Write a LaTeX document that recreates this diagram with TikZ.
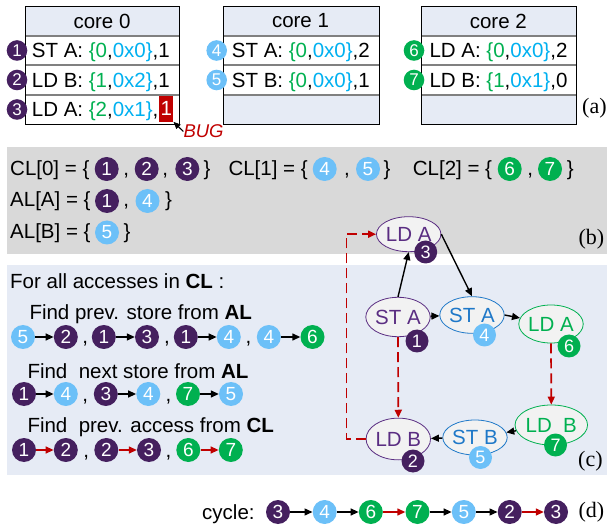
\documentclass[tikz,border=0pt]{standalone}
\usepackage{fontspec}
\setmainfont{Liberation Sans}
\newfontfamily\tms{Liberation Serif}
\usetikzlibrary{arrows.meta,shapes.geometric}
\definecolor{dpur}{HTML}{45205F}
\definecolor{lblu}{HTML}{6CC0F8}
\definecolor{grn}{HTML}{00B050}
\definecolor{cyn}{HTML}{00B0F0}
\definecolor{bred}{HTML}{C00000}
\definecolor{pnl}{HTML}{E6EBF5}
\definecolor{gry}{HTML}{D9D9D9}
\definecolor{purtxt}{HTML}{5A2D82}
\definecolor{blutxt}{HTML}{1E78C8}
\definecolor{efill}{HTML}{F2F2F2}
\newcommand\gv[1]{{\color{grn}#1}}
\newcommand\cv[1]{{\color{cyn}#1}}
\begin{document}
\begin{tikzpicture}[x=1pt,y=-1pt,
  txt/.style={inner sep=0pt, anchor=base west, font=\fontsize{20.5}{24}\selectfont},
  hdr/.style={inner sep=0pt, font=\fontsize{20.5}{24}\selectfont},
  lbl/.style={inner sep=0pt, anchor=base west, font=\tms\fontsize{22}{26}\selectfont},
  bdg/.style={circle, inner sep=0pt, minimum size=24pt, text=white, font=\fontsize{19}{20}\selectfont},
  bdgs/.style={bdg, minimum size=20.6pt, font=\fontsize{17}{18}\selectfont},
  bdgm/.style={bdg, minimum size=23pt, font=\fontsize{18}{19}\selectfont},
  sep/.style={draw=black!50, line width=1.2pt},
  boxl/.style={draw=black, line width=0.9pt},
  arr/.style={-{Triangle[length=8pt,width=7pt]}, line width=1.4pt},
  rarr/.style={arr, draw=bred, fill=bred},
  rdash/.style={-{Triangle[length=8pt,width=7pt]}, line width=1.7pt, draw=bred, dash pattern=on 10pt off 5pt},
  ell/.style={ellipse, draw, fill=efill, line width=0.8pt, inner sep=0pt, font=\fontsize{20.5}{24}\selectfont},
]
\useasboundingbox (0,0) rectangle (608,529);

% panels
\fill[gry] (7,147) rectangle (607,254);
\fill[pnl] (7,265) rectangle (607,475);

% ---------- (a) core boxes ----------
\fill[pnl] (25,6) rectangle (179,36);
\draw[sep] (25,36) -- (179,36) (25,65) -- (179,65) (25,95) -- (179,95);
\draw[boxl] (25,6) rectangle (179,124);
\node[hdr] (c0) at (102,21) {core 0};

\fill[pnl] (223,6) rectangle (379,36);
\fill[pnl] (223,95) rectangle (379,124);
\draw[sep] (223,36) -- (379,36) (223,65) -- (379,65) (223,95) -- (379,95);
\draw[boxl] (223,6) rectangle (379,124);
\node[hdr] (c1) at (300.5,21) {core 1};

\fill[pnl] (421,6) rectangle (576,36);
\fill[pnl] (421,95) rectangle (576,124);
\draw[sep] (421,36) -- (576,36) (421,65) -- (576,65) (421,95) -- (576,95);
\draw[boxl] (421,6) rectangle (576,124);
\node[hdr] (c2) at (498.3,21) {core 2};

\node[txt] (t01) at (31.7,57.6) {ST A: \gv{\{0},\cv{0x0\}},1};
\node[txt] (t02) at (31.7,87.2) {LD B: \gv{\{1},\cv{0x2\}},1};
\node[txt] (t03) at (31.7,116.7) {LD A: \gv{\{2},\cv{0x1\}},};
\node[fill=bred, text=white, inner sep=0pt, minimum width=14.3pt, minimum height=25.7pt,
      font=\fontsize{20.5}{24}\selectfont] (rb) at (166.2,108.8) {1};
\node[txt] (t11) at (231.7,57.6) {ST A: \gv{\{0},\cv{0x0\}},2};
\node[txt] (t12) at (231.7,87.2) {ST B: \gv{\{0},\cv{0x0\}},1};
\node[txt] (t21) at (429.3,57.6) {LD A: \gv{\{0},\cv{0x0\}},2};
\node[txt] (t22) at (429.3,87.2) {LD B: \gv{\{1},\cv{0x1\}},0};

\node[bdgs, fill=dpur] (a1) at (17,50.5) {1};
\node[bdgs, fill=dpur] (a2) at (17,80) {2};
\node[bdgs, fill=dpur] (a3) at (17,109.5) {3};
\node[bdgs, fill=lblu] (a4) at (216.7,50.5) {4};
\node[bdgs, fill=lblu] (a5) at (216.7,80) {5};
\node[bdgs, fill=grn] (a6) at (414,50.5) {6};
\node[bdgs, fill=grn] (a7) at (414,80) {7};

\node[inner sep=0pt, anchor=west, text=bred, font=\itshape\fontsize{18.5}{20}\selectfont] (bug) at (183.3,131.5) {BUG};
\draw[-{Triangle[length=7pt,width=6pt]}, line width=1.1pt] (bug.west) -- (rb.south east);

\node[lbl] (la) at (582,114) {(a)};

% ---------- (b) ----------
\node[txt] (cl0) at (10,175.5) {CL[0] = \{};
\node[bdg, fill=dpur] (b01) at (106.7,169) {1};
\node[txt] (bk1) at (123.2,175.5) {,};
\node[bdg, fill=dpur] (b02) at (146.7,169) {2};
\node[txt] (bk2) at (162.2,175.5) {,};
\node[bdg, fill=dpur] (b03) at (187.3,169) {3};
\node[txt] (bz1) at (203.4,175.5) {\}};

\node[txt] (cl1) at (228.3,175.5) {CL[1] = \{};
\node[bdg, fill=lblu] (b14) at (324.7,169) {4};
\node[txt] (bk3) at (343.9,175.5) {,};
\node[bdg, fill=lblu] (b15) at (368,169) {5};
\node[txt] (bz2) at (383.4,175.5) {\}};

\node[txt] (cl2) at (412.7,175.5) {CL[2] = \{};
\node[bdg, fill=grn] (b26) at (509.7,169) {6};
\node[txt] (bk4) at (527.2,175.5) {,};
\node[bdg, fill=grn] (b27) at (550,169) {7};
\node[txt] (bz3) at (566.7,175.5) {\}};

\node[txt] (ala) at (10,206.5) {AL[A] = \{};
\node[bdg, fill=dpur] (bA1) at (107,201) {1};
\node[txt] (bk5) at (123.2,206.5) {,};
\node[bdg, fill=lblu] (bA4) at (147.5,201) {4};
\node[txt] (bz4) at (165,206.5) {\}};

\node[txt] (alb) at (10,238.5) {AL[B] = \{};
\node[bdg, fill=lblu] (bB5) at (107,232.5) {5};
\node[txt] (bz5) at (123.4,238.5) {\}};

\node[lbl] (lb) at (578.3,245) {(b)};

% ---------- (c) left ----------
\node[txt] (fa) at (10,288.5) {For all accesses in \textbf{CL} :};
\node[txt] (f1) at (29.3,319.5) {Find prev. store from \textbf{AL}};
\node[bdg, fill=lblu] (p1a) at (23,337) {5};
\node[bdg, fill=dpur] (p1b) at (65.8,337) {2};
\node[txt] (pk1) at (82.2,344) {,};
\node[bdg, fill=dpur] (p2a) at (103.8,337) {1};
\node[bdg, fill=dpur] (p2b) at (147,337) {3};
\node[txt] (pk2) at (163.9,344) {,};
\node[bdg, fill=dpur] (p3a) at (185.8,337) {1};
\node[bdg, fill=lblu] (p3b) at (228.8,337) {4};
\node[txt] (pk3) at (245.5,344) {,};
\node[bdg, fill=lblu] (p4a) at (268.8,337) {4};
\node[bdg, fill=grn] (p4b) at (312.5,337) {6};
\draw[arr] (p1a) -- (p1b);
\draw[arr] (p2a) -- (p2b);
\draw[arr] (p3a) -- (p3b);
\draw[arr] (p4a) -- (p4b);

\node[txt] (f2) at (27.3,378.5) {Find~ next store from \textbf{AL}};
\node[bdg, fill=dpur] (q1a) at (24,394) {1};
\node[bdg, fill=lblu] (q1b) at (65.8,394) {4};
\node[txt] (qk1) at (82.2,401) {,};
\node[bdg, fill=dpur] (q2a) at (105.8,394) {3};
\node[bdg, fill=lblu] (q2b) at (148.3,394) {4};
\node[txt] (qk2) at (165.5,401) {,};
\node[bdg, fill=grn] (q3a) at (188,394) {7};
\node[bdg, fill=lblu] (q3b) at (231,394) {5};
\draw[arr] (q1a) -- (q1b);
\draw[arr] (q2a) -- (q2b);
\draw[arr] (q3a) -- (q3b);

\node[txt] (f3) at (27.3,432.7) {Find~ prev. access from \textbf{CL}};
\node[bdg, fill=dpur] (s1a) at (24,450) {1};
\node[bdg, fill=dpur] (s1b) at (65.8,450) {2};
\node[txt] (sk1) at (83.2,457) {,};
\node[bdg, fill=dpur] (s2a) at (106.3,450) {2};
\node[bdg, fill=dpur] (s2b) at (149,450) {3};
\node[txt] (sk2) at (165.5,457) {,};
\node[bdg, fill=grn] (s3a) at (188.3,450) {6};
\node[bdg, fill=grn] (s3b) at (230.8,450) {7};
\draw[rarr] (s1a) -- (s1b);
\draw[rarr] (s2a) -- (s2b);
\draw[rarr] (s3a) -- (s3b);

% ---------- (c) graph ----------
\node[ell, draw=purtxt, text=purtxt, minimum width=56pt, minimum height=35pt] (n3) at (408.7,234.2) {LD A};
\node[ell, draw=purtxt, text=purtxt, minimum width=57.4pt, minimum height=39.4pt] (n1) at (398,317) {ST A};
\node[ell, draw=blutxt, text=blutxt, minimum width=59pt, minimum height=36.6pt] (n4) at (472,315) {ST A};
\node[ell, draw=grn, text=grn, minimum width=56.6pt, minimum height=38pt] (n6) at (551,324) {LD A};
\node[ell, draw=grn, text=grn, minimum width=60.7pt, minimum height=40pt] (n7) at (551.3,425) {LD~ B};
\node[ell, draw=blutxt, text=blutxt, minimum width=58pt, minimum height=35pt] (n5) at (475,437.5) {ST B};
\node[ell, draw=purtxt, text=purtxt, minimum width=56.7pt, minimum height=41.7pt] (n2) at (398.3,439) {LD B};

\draw[arr] (n1.north) -- (n3.south);
\draw[arr] (n3.east) -- (n4.north);
\draw[arr] (n1) -- (n4);
\draw[arr] (n4.east) -- (n6);
\draw[arr] (n7) -- (n5);
\draw[arr] (n5) -- (n2);
\draw[rdash] (n6.south) -- (n7.north);
\draw[rdash] (n1.south) -- (n2.north);
\draw[rdash] (n2.west) -- ++(-19.3,0) |- (n3.west);

\node[bdgm, fill=dpur] (g3) at (425.7,252) {3};
\node[bdgm, fill=dpur] (g1) at (417,341) {1};
\node[bdgm, fill=lblu] (g4) at (484.5,335) {4};
\node[bdgm, fill=grn] (g6) at (569,346) {6};
\node[bdgm, fill=grn] (g7) at (555.5,445) {7};
\node[bdgm, fill=lblu] (g5) at (480.5,457.5) {5};
\node[bdgm, fill=dpur] (g2) at (413,461) {2};

\node[lbl] (lc) at (578,466) {(c)};

% ---------- (d) ----------
\node[txt] (cyc) at (202,519.3) {cycle:};
\node[bdg, fill=dpur] (d1) at (278,512) {3};
\node[bdg, fill=lblu] (d2) at (324.7,512) {4};
\node[bdg, fill=grn] (d3) at (370.8,512) {6};
\node[bdg, fill=grn] (d4) at (417.5,512) {7};
\node[bdg, fill=lblu] (d5) at (463.8,512) {5};
\node[bdg, fill=dpur] (d6) at (509.7,512) {2};
\node[bdg, fill=dpur] (d7) at (556,512) {3};
\draw[arr] (d1) -- (d2);
\draw[arr] (d2) -- (d3);
\draw[rarr] (d3) -- (d4);
\draw[arr] (d4) -- (d5);
\draw[arr] (d5) -- (d6);
\draw[rarr] (d6) -- (d7);

\node[lbl] (ld) at (578.3,517) {(d)};
\end{tikzpicture}
\end{document}
